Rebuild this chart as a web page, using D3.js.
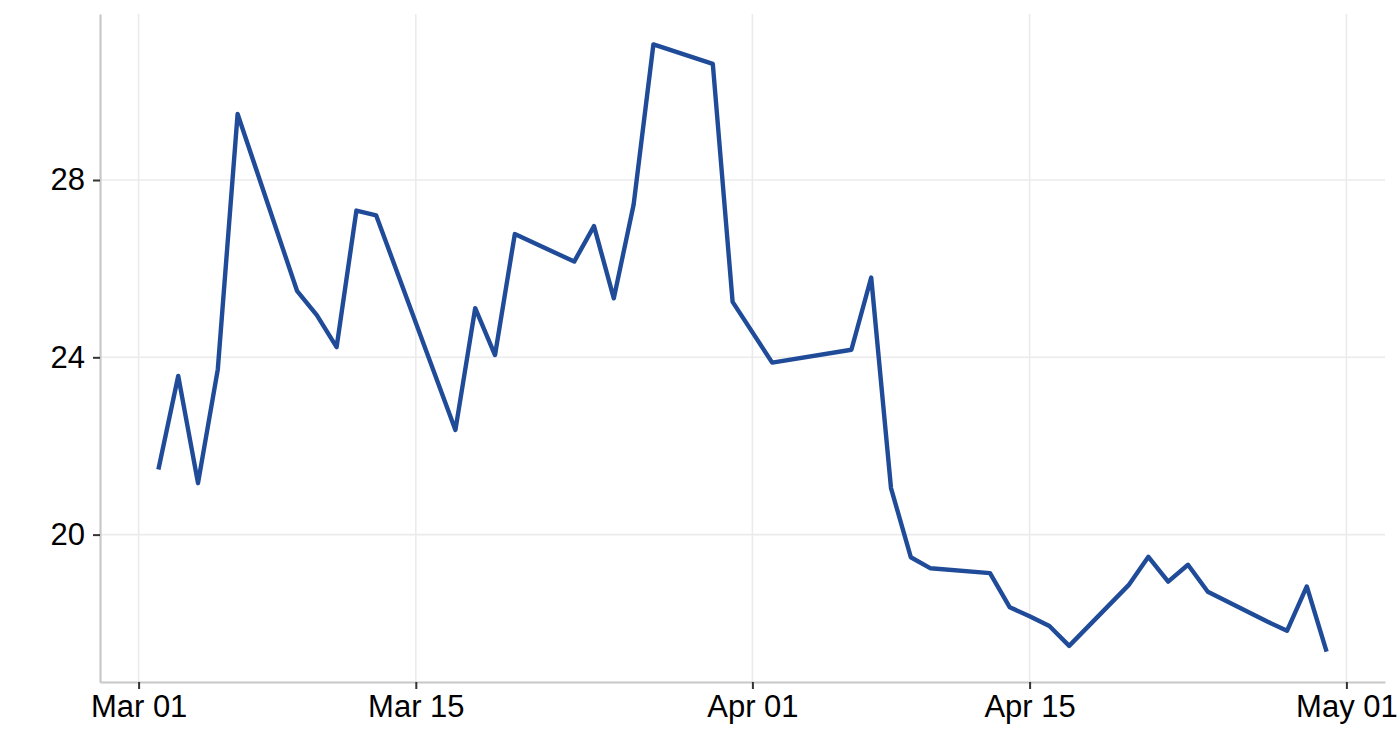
<!DOCTYPE html>
<html lang="en">
    <head>
        <meta charset="UTF-8" />
        <title>Daily series</title>
        <style>
            body { margin: 0; background: #fff; }
        </style>
    </head>
    <body>
        <div id="main"></div>
        <script src="https://cdn.jsdelivr.net/npm/d3@7"></script>
        <script>
            // dates (2020) and values
            const dates = [
                "2020-03-02", "2020-03-03", "2020-03-04", "2020-03-05", "2020-03-06",
                "2020-03-09", "2020-03-10", "2020-03-11", "2020-03-12", "2020-03-13",
                "2020-03-17", "2020-03-18", "2020-03-19", "2020-03-20",
                "2020-03-23", "2020-03-24", "2020-03-25", "2020-03-26", "2020-03-27",
                "2020-03-30", "2020-03-31", "2020-04-02",
                "2020-04-06", "2020-04-07", "2020-04-08", "2020-04-09", "2020-04-10",
                "2020-04-13", "2020-04-14", "2020-04-15", "2020-04-16", "2020-04-17",
                "2020-04-20", "2020-04-21", "2020-04-22", "2020-04-23", "2020-04-24",
                "2020-04-27", "2020-04-28", "2020-04-29", "2020-04-30"
            ]
            const values = [
                21.47, 23.58, 21.16, 23.73, 29.49,
                25.5, 24.95, 24.23, 27.31, 27.2,
                22.36, 25.11, 24.05, 26.78,
                26.16, 26.96, 25.33, 27.44, 31.06,
                30.62, 25.25, 23.88,
                24.17, 25.8, 21.05, 19.49, 19.24,
                19.13, 18.36, 18.16, 17.94, 17.49,
                18.86, 19.5, 18.94, 19.32, 18.71,
                18.04, 17.83, 18.83, 17.36
            ]
            const xTicks = ["2020-03-01", "2020-03-15", "2020-04-01", "2020-04-15", "2020-05-01"]
            const yTicks = [20, 24, 28]

            const svgWidth = 1400
            const svgHeight = 740
            const margin = { left: 100, right: 15, top: 14, bottom: 58 }
            const fontFamily = "Liberation Sans, Arial, sans-serif"
            const fontSize = 31

            const parse = d3.utcParse("%Y-%m-%d")
            const data = dates.map((d, i) => ({ date: parse(d), value: values[i] }))

            main()
            function main() {
                const svg = d3
                    .select("#main")
                    .append("svg")
                    .attr("width", svgWidth)
                    .attr("height", svgHeight)

                // ggplot-like 5% expansion of the data range
                const xExt = d3.extent(data, (d) => d.date)
                const xPad = (xExt[1] - xExt[0]) * 0.05
                const x = d3
                    .scaleUtc()
                    .domain([new Date(+xExt[0] - xPad), new Date(+xExt[1] + xPad)])
                    .range([margin.left, svgWidth - margin.right])

                const yExt = d3.extent(values)
                const yPad = (yExt[1] - yExt[0]) * 0.05
                const y = d3
                    .scaleLinear()
                    .domain([yExt[0] - yPad, yExt[1] + yPad])
                    .range([svgHeight - margin.bottom, margin.top])

                const bottom = svgHeight - margin.bottom

                // grid
                const grid = svg.append("g")
                grid.selectAll("line.vgrid")
                    .data(xTicks.map(parse))
                    .enter()
                    .append("line")
                    .classed("vgrid", true)
                    .attr("x1", (d) => x(d))
                    .attr("x2", (d) => x(d))
                    .attr("y1", margin.top)
                    .attr("y2", bottom)
                    .attr("stroke", "#ebebeb")
                    .attr("stroke-width", 1.6)
                grid.selectAll("line.hgrid")
                    .data(yTicks)
                    .enter()
                    .append("line")
                    .classed("hgrid", true)
                    .attr("x1", margin.left)
                    .attr("x2", svgWidth - margin.right)
                    .attr("y1", (d) => y(d))
                    .attr("y2", (d) => y(d))
                    .attr("stroke", "#ebebeb")
                    .attr("stroke-width", 1.6)

                // axes
                const xAxis = svg
                    .append("g")
                    .attr("transform", `translate(0, ${bottom})`)
                    .call(
                        d3
                            .axisBottom(x)
                            .tickValues(xTicks.map(parse))
                            .tickFormat(d3.utcFormat("%b %d"))
                            .tickSize(7)
                            .tickSizeOuter(0)
                            .tickPadding(6)
                    )
                const yAxis = svg
                    .append("g")
                    .attr("transform", `translate(${margin.left}, 0)`)
                    .call(
                        d3
                            .axisLeft(y)
                            .tickValues(yTicks)
                            .tickSize(7)
                            .tickSizeOuter(0)
                            .tickPadding(8)
                    )
                ;[xAxis, yAxis].forEach((g) => {
                    g.select(".domain").attr("stroke", "#c8c8c8").attr("stroke-width", 2.2)
                    g.selectAll(".tick line").attr("stroke", "#333").attr("stroke-width", 2)
                    g.selectAll(".tick text")
                        .attr("fill", "#000")
                        .attr("font-size", fontSize)
                        .attr("font-family", fontFamily)
                })

                // series
                const line = d3
                    .line()
                    .x((d) => x(d.date))
                    .y((d) => y(d.value))
                svg.append("path")
                    .datum(data)
                    .attr("d", line)
                    .attr("fill", "none")
                    .attr("stroke", "#1f4b99")
                    .attr("stroke-width", 4.4)
                    .attr("stroke-linejoin", "round")
            }
        </script>
    </body>
</html>
